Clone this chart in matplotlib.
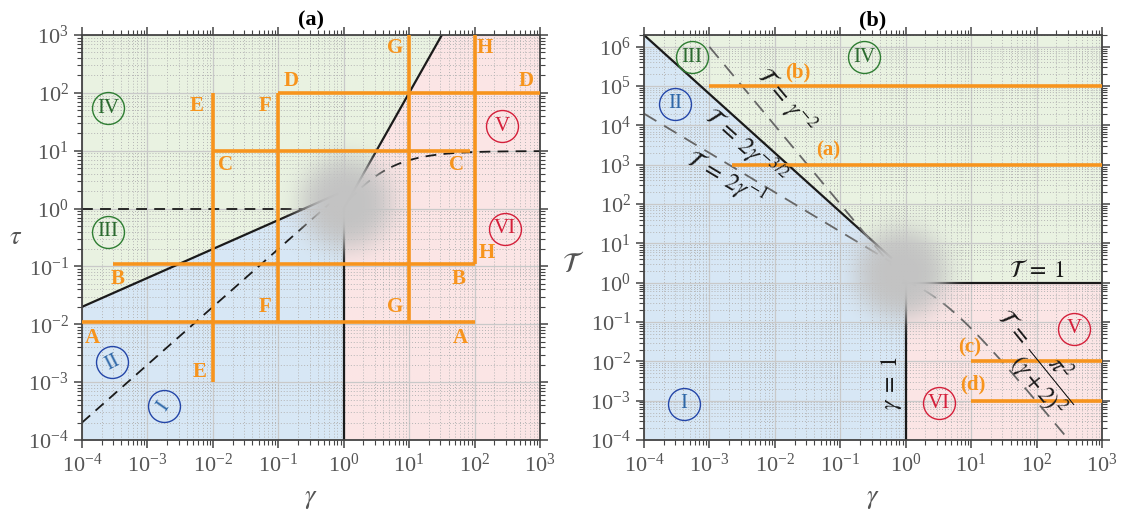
import numpy as np
import matplotlib
matplotlib.use('Agg')
import matplotlib.pyplot as plt
from matplotlib.ticker import LogLocator, NullFormatter

plt.rcParams['font.family'] = ['Liberation Serif', 'DejaVu Serif']
plt.rcParams['mathtext.fontset'] = 'stix'

# ---- data ----
gamma_lim = [1e-4, 1e3]
tau_lim = [1e-4, 1e3]
T_lim = [1e-4, 2e6]

# boundary curves: (prefactor, exponent) of power laws
tau_solid_low = (2.0, 0.5)     # tau = 2 gamma^(1/2)
tau_solid_high = (1.0, 2.0)    # tau = gamma^2
tau_dash_low = (2.0, 1.0)      # tau = 2 gamma
tau_dash_flat = 1.0            # tau = 1
T_solid = (2.0, -1.5)          # T = 2 gamma^(-3/2)
T_dash_a = (1.0, -2.0)         # T = gamma^-2
T_dash_b = (2.0, -1.0)         # T = 2 gamma^-1
T_flat = 1.0                   # T = 1

# orange paths in panel (a)
path_names = ['A', 'B', 'C', 'D', 'E', 'F', 'G', 'H']
path_gamma = [(1e-4, 1e2), (3e-4, 1e2), (1e-2, 86), (1e-1, 1e3),
              (1e-2, 1e-2), (1e-1, 1e-1), (10, 10), (100, 100)]
path_tau = [(1.1e-2, 1.1e-2), (1.1e-1, 1.1e-1), (10, 10), (100, 100),
            (1e-3, 100), (1.1e-2, 100), (1.1e-2, 1e3), (1.1e-1, 1e3)]
# letter positions (log10 gamma, log10 tau), two per path
letter_pos = [[(-3.84, -2.23), (1.78, -2.23)],
              [(-3.46, -1.22), (1.75, -1.22)],
              [(-1.81, 0.76), (1.72, 0.76)],
              [(-0.80, 2.20), (2.79, 2.20)],
              [(-2.25, 1.78), (-2.20, -2.83)],
              [(-1.20, 1.78), (-1.20, -1.70)],
              [(0.78, 2.77), (0.78, -1.70)],
              [(2.16, 2.77), (2.18, -0.77)]]

# orange paths in panel (b)
run_names = ['(b)', '(a)', '(c)', '(d)']
run_T = [1e5, 1e3, 1e-2, 1e-3]
run_gamma = [(1e-3, 1e3), (2.2e-3, 1e3), (10, 1e3), (10, 1e3)]
run_label_pos = [(-1.645, 5.36), (-1.18, 3.37), (0.975, -1.65), (1.02, -2.6)]

# regime labels
regimes = ['I', 'II', 'III', 'IV', 'V', 'VI']
regime_pos_a = [(-2.75, -3.42), (-3.54, -2.66), (-3.60, -0.40), (-3.60, 1.73), (2.42, 1.42), (2.47, -0.35)]
regime_rot_a = [55, 27, 0, 0, 0, 0]
regime_pos_b = [(-3.39, -3.08), (-3.52, 4.55), (-3.27, 5.74), (-0.63, 5.74), (2.57, -1.17), (0.51, -3.06)]
regime_edge = ['#2446a8', '#2446a8', '#2e7d32', '#2e7d32', '#d41f3a', '#d41f3a']
regime_text = ['#2f68a8', '#2f68a8', '#2b6a2f', '#2b6a2f', '#d41f3a', '#d41f3a']

# formula labels of panel (b): text, (log10 gamma, log10 T), rotation
formula_text = [r'$\mathcal{T}\;=\;\gamma^{-2}$', r'$\mathcal{T}\;=\;2\gamma^{-3/2}$',
                r'$\mathcal{T}\;=\;2\gamma^{-1}$', r'$\mathcal{T}\;=\;1$', r'$\gamma\;=\;1$',
                r'$\mathcal{T}\;=\;\dfrac{\pi^2}{(\gamma+2)^2}$']
formula_pos = [(-1.84, 4.62), (-2.45, 3.47), (-2.76, 2.62), (2.0, 0.31), (-0.21, -2.55), (1.98, -1.97)]
formula_rot = [-50, -42, -31, 0, 90, -51]

orange = '#f7941d'
c_green = '#e9f2e1'
c_blue = '#d7e7f5'
c_pink = '#fbe5e5'
tick_gray = '#555555'

fig = plt.figure(figsize=(11.24, 5.19), dpi=100)
W, H = 1124, 519
ax1 = fig.add_axes([82 / W, 1 - 440 / H, 458 / W, 405 / H])
ax2 = fig.add_axes([644 / W, 1 - 440 / H, 458 / W, 405 / H])


def pl(p, g):
    return p[0] * g ** p[1]


def setup(ax, ylim):
    ax.set_xscale('log')
    ax.set_yscale('log')
    for a in (ax.xaxis, ax.yaxis):
        a.set_major_locator(LogLocator(base=10, numticks=30))
        a.set_minor_locator(LogLocator(base=10, subs=np.arange(2, 10), numticks=300))
        a.set_minor_formatter(NullFormatter())
    ax.set_xlim(gamma_lim)
    ax.set_ylim(ylim)
    ax.grid(which='major', color='#c9c9c9', lw=0.9)
    ax.grid(which='minor', color='#b5b5b5', lw=0.7, ls=(0, (1, 2)))
    ax.set_axisbelow(True)
    ax.tick_params(which='both', direction='out', top=True, right=True,
                   labelsize=16, labelcolor=tick_gray, color='#444444')
    ax.tick_params(which='major', length=6, width=1.1)
    ax.tick_params(which='minor', length=3.5, width=0.8)
    for s in ax.spines.values():
        s.set_color('#444444')
        s.set_linewidth(1.3)


def add_blob(ax, gx, gy, ylim, scale_px=48):
    # soft grey disc hiding the crossover point
    pos = ax.get_position()
    wpx, hpx = pos.width * W, pos.height * H
    cx = (np.log10(gx) - np.log10(gamma_lim[0])) / (np.log10(gamma_lim[1]) - np.log10(gamma_lim[0]))
    cy = (np.log10(gy) - np.log10(ylim[0])) / (np.log10(ylim[1]) - np.log10(ylim[0]))
    R = 100
    n = 201
    xx, yy = np.meshgrid(np.linspace(-R, R, n), np.linspace(-R, R, n))
    r = np.hypot(xx, yy)
    img = np.zeros((n, n, 4))
    img[..., :3] = 0.765
    img[..., 3] = np.exp(-(r / scale_px) ** 4)
    ax.imshow(img, extent=[cx - R / wpx, cx + R / wpx, cy - R / hpx, cy + R / hpx],
              transform=ax.transAxes, origin='lower', interpolation='bilinear',
              aspect='auto', zorder=3)


def regime_marks(ax, pos, rots):
    for name, (lx, ly), rot, ec, tc in zip(regimes, pos, rots, regime_edge, regime_text):
        ax.plot(10 ** lx, 10 ** ly, 'o', ms=23, mfc='none', mec=ec, mew=1.0, zorder=6)
        ax.text(10 ** lx, 10 ** ly, name, color=tc, fontsize=15, ha='center', va='center',
                rotation=rot, zorder=6)


# ---------------- panel (a) ----------------
setup(ax1, tau_lim)
g = np.geomspace(gamma_lim[0], gamma_lim[1], 800)
upper = np.maximum(pl(tau_solid_low, g), pl(tau_solid_high, g))
ax1.fill_between(g, upper, tau_lim[1], color=c_green, lw=0, zorder=0.3)
ax1.fill_between(g[g <= 1], tau_lim[0], pl(tau_solid_low, g[g <= 1]), color=c_blue, lw=0, zorder=0.3)
ax1.fill_between(g[g >= 1], tau_lim[0], upper[g >= 1], color=c_pink, lw=0, zorder=0.3)

g1 = np.geomspace(1e-4, 0.8, 200)
ax1.plot(g1, pl(tau_solid_low, g1), color='#1a1a1a', lw=1.6, zorder=2)
g2 = np.geomspace(1.0, 40, 200)
ax1.plot(g2, pl(tau_solid_high, g2), color='#1a1a1a', lw=1.6, zorder=2)
ax1.plot([1, 1], [tau_lim[0], 1], color='#1a1a1a', lw=1.6, zorder=2)
ax1.plot([1e-4, 0.26], [tau_dash_flat, tau_dash_flat], color='#1a1a1a', lw=1.3, ls=(0, (6, 4)), zorder=2)
g3 = np.geomspace(1e-4, 0.6, 200)
ax1.plot(g3, pl(tau_dash_low, g3), color='#1a1a1a', lw=1.3, ls=(0, (6, 4)), zorder=2)
g4 = np.geomspace(1.2, 1e3, 300)
ax1.plot(g4, np.pi ** 2 * g4 ** 2 / (g4 + 2) ** 2, color='#1a1a1a', lw=1.3, ls=(0, (6, 4)), zorder=2)

add_blob(ax1, 1.1, 1.26, tau_lim)

for name, gr, tr, lp in zip(path_names, path_gamma, path_tau, letter_pos):
    ax1.plot(gr, tr, color=orange, lw=2.6, solid_capstyle='butt', zorder=4)
    for lx, ly in lp:
        ax1.text(10 ** lx, 10 ** ly, name, color=orange, fontsize=15, fontweight='bold',
                 ha='center', va='center', zorder=5)

regime_marks(ax1, regime_pos_a, regime_rot_a)
ax1.set_xlim(gamma_lim)
ax1.set_ylim(tau_lim)
ax1.set_title('(a)', fontsize=16, fontweight='bold', pad=7)
ax1.set_xlabel(r'$\gamma$', fontsize=19, color=tick_gray, labelpad=9)
ax1.set_ylabel(r'$\tau$', fontsize=19, color=tick_gray, rotation=0, ha='center', va='center')
ax1.yaxis.set_label_coords(-0.145, 0.5)

# ---------------- panel (b) ----------------
setup(ax2, T_lim)
upperT = np.maximum(pl(T_solid, g), T_flat)
ax2.fill_between(g, upperT, T_lim[1], color=c_green, lw=0, zorder=0.3)
ax2.fill_between(g[g <= 1], T_lim[0], pl(T_solid, g[g <= 1]), color=c_blue, lw=0, zorder=0.3)
ax2.fill_between(g[g >= 1], T_lim[0], T_flat, color=c_pink, lw=0, zorder=0.3)

h1 = np.geomspace(1e-4, 0.6, 200)
ax2.plot(h1, pl(T_solid, h1), color='#1a1a1a', lw=1.6, zorder=2)
ax2.plot([0.9, 1e3], [T_flat, T_flat], color='#1a1a1a', lw=1.6, zorder=2)
ax2.plot([1, 1], [T_lim[0], 1], color='#1a1a1a', lw=1.6, zorder=2)
h2 = np.geomspace(1e-3, 0.6, 200)
ax2.plot(h2, pl(T_dash_a, h2), color='#666666', lw=1.3, ls=(0, (8, 5)), zorder=2)
h3 = np.geomspace(1e-4, 0.6, 200)
ax2.plot(h3, pl(T_dash_b, h3), color='#666666', lw=1.3, ls=(0, (8, 5)), zorder=2)
h4 = np.geomspace(0.9, 1e3, 300)
ax2.plot(h4, np.pi ** 2 / (h4 + 2) ** 2, color='#666666', lw=1.3, ls=(0, (8, 5)), zorder=2)

add_blob(ax2, 0.85, 1.8, T_lim)

for name, tv, gr, (lx, ly) in zip(run_names, run_T, run_gamma, run_label_pos):
    ax2.plot(gr, [tv, tv], color=orange, lw=2.6, solid_capstyle='butt', zorder=4)
    ax2.text(10 ** lx, 10 ** ly, name, color=orange, fontsize=15, fontweight='bold',
             ha='center', va='center', zorder=5)

for txt, (lx, ly), rot in zip(formula_text, formula_pos, formula_rot):
    ax2.text(10 ** lx, 10 ** ly, txt, rotation=rot, fontsize=17, color='#1a1a1a',
             ha='center', va='center', rotation_mode='anchor', zorder=5)

regime_marks(ax2, regime_pos_b, [0] * 6)
ax2.set_xlim(gamma_lim)
ax2.set_ylim(T_lim)
ax2.set_title('(b)', fontsize=16, fontweight='bold', pad=7)
ax2.set_xlabel(r'$\gamma$', fontsize=19, color=tick_gray, labelpad=9)
ax2.set_ylabel(r'$\mathcal{T}$', fontsize=20, color=tick_gray, rotation=0, ha='center', va='center')
ax2.yaxis.set_label_coords(-0.155, 0.43)

fig.savefig('out.png', dpi=100)
